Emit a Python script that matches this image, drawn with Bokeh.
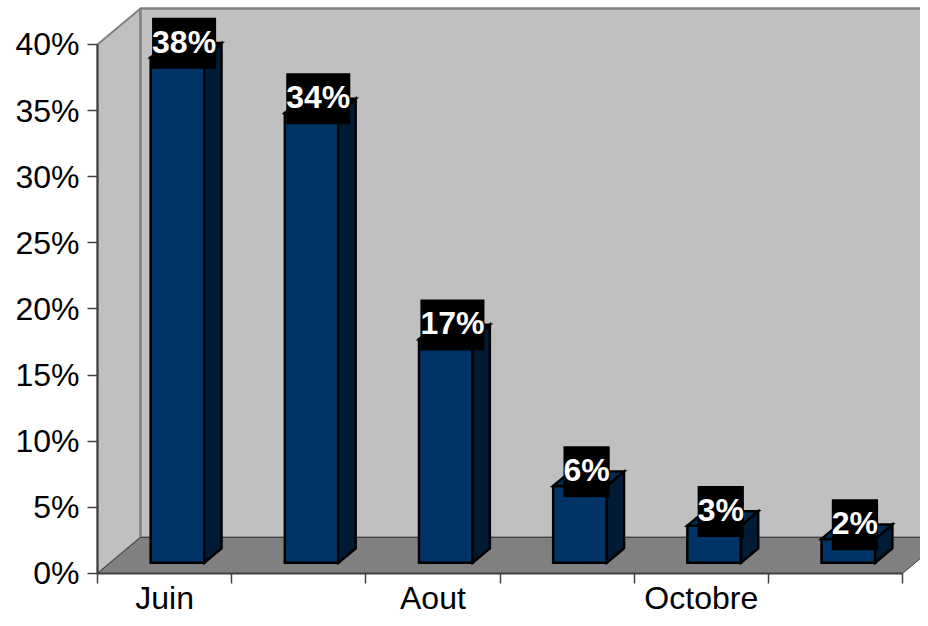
from bokeh.plotting import figure
from bokeh.models import (ColumnDataSource, Range1d, LinearAxis, FixedTicker,
                          PrintfTickFormatter)
from bokeh.core.properties import value
from bokeh.embed import file_html
from bokeh.resources import INLINE

# ---- data ----
months = ["Juin", "Juillet", "Aout", "Septembre", "Octobre", "Novembre"]
shares = [38.2, 34.0, 16.9, 5.8, 2.8, 1.8]          # percent
bar_labels = ["38%", "34%", "17%", "6%", "3%", "2%"]
shown_month_idx = [0, 2, 4]                         # labels Excel displayed
y_ticks = [0, 5, 10, 15, 20, 25, 30, 35, 40]

# ---- 3D look constants (data units) ----
Y_MAX = 40
DX, DY = 0.3205, 2.722        # full depth of the floor
F0, F1 = 0.30, 0.70           # bar depth span (fraction of floor depth)
BAR_W = 0.40
N = len(months)

FONT = "Liberation Sans"

p = figure(width=920, height=618, output_backend="svg", toolbar_location=None,
           x_range=Range1d(-0.723, 6.134), y_range=Range1d(-3.403, 43.327),
           min_border_left=0, min_border_right=0, min_border_top=0,
           min_border_bottom=0, x_axis_type=None, y_axis_type=None)
p.outline_line_color = None
p.xgrid.visible = False
p.ygrid.visible = False
p.background_fill_color = "white"
p.border_fill_color = "white"

# walls and floor
wall_top = Y_MAX + DY
p.patch([0, DX, DX, 0], [0, DY, wall_top, Y_MAX], fill_color="#C0C0C0",
        line_color="#808080", line_width=2)
p.patch([DX, N + DX + 0.5, N + DX + 0.5, DX], [DY, DY, wall_top, wall_top],
        fill_color="#C0C0C0", line_color="#808080", line_width=2.5)
p.patch([0, N, N + DX, DX], [0, 0, DY, DY], fill_color="#808080",
        line_color="#404040", line_width=1)

# bars
fx, fy, sx, sy, tx, ty = [], [], [], [], [], []
lx, ly = [], []
for i, v in enumerate(shares):
    x0 = i + 0.5 - BAR_W / 2 + F0 * DX
    x1 = x0 + BAR_W
    b = F0 * DY
    t = v + F0 * DY
    ddx = (F1 - F0) * DX
    ddy = (F1 - F0) * DY
    fx.append([x0, x1, x1, x0]); fy.append([b, b, t, t])
    sx.append([x1, x1 + ddx, x1 + ddx, x1]); sy.append([b, b + ddy, t + ddy, t])
    tx.append([x0, x1, x1 + ddx, x0 + ddx]); ty.append([t, t, t + ddy, t + ddy])
    lx.append(i + 0.5 + 0.5 * DX)
    ly.append(v + 0.5 * DY)

p.patches(fx, fy, fill_color="#003366", line_color="black", line_width=2.5,
          line_join="miter")
p.patches(sx, sy, fill_color="#001B36", line_color="black", line_width=2.5,
          line_join="miter")
p.patches(tx, ty, fill_color="#002A55", line_color="black", line_width=2.5,
          line_join="miter")

src = ColumnDataSource(dict(x=lx, y=ly, t=bar_labels))
p.text(x="x", y="y", text="t", source=src, x_offset=-2, y_offset=-7,
       text_align="center", text_baseline="alphabetic",
       text_font=value(FONT), text_font_size="32px", text_font_style="bold",
       text_color="white", background_fill_color="black",
       padding=dict(left=0, right=0, top=6, bottom=9))

# y axis, drawn on the front plane at x = 0
yax = LinearAxis(ticker=FixedTicker(ticks=y_ticks), bounds=(0, Y_MAX),
                 formatter=PrintfTickFormatter(format="%d%%"),
                 fixed_location=0)
yax.axis_line_color = "#404040"
yax.axis_line_width = 2
yax.major_tick_line_color = "#404040"
yax.major_tick_line_width = 1.5
yax.major_tick_out = 10
yax.major_tick_in = 0
yax.minor_tick_line_color = None
yax.major_label_standoff = 8
yax.major_label_text_font = FONT
yax.major_label_text_font_size = "32px"
yax.major_label_text_color = "black"
p.add_layout(yax, "left")

# x axis at y = 0: category boundaries as minor ticks, month names at centres
xax = LinearAxis(ticker=FixedTicker(ticks=[i + 0.5 for i in shown_month_idx],
                                    minor_ticks=list(range(N + 1))),
                 bounds=(0, N), fixed_location=0)
xax.major_label_overrides = {i + 0.5: months[i] for i in shown_month_idx}
xax.axis_line_color = "#404040"
xax.axis_line_width = 2
xax.major_tick_line_color = None
xax.major_tick_out = 0
xax.major_tick_in = 0
xax.minor_tick_line_color = "#404040"
xax.minor_tick_line_width = 1.5
xax.minor_tick_out = 10
xax.minor_tick_in = 0
xax.major_label_standoff = -3
xax.major_label_text_font = FONT
xax.major_label_text_font_size = "32px"
xax.major_label_text_color = "black"
p.add_layout(xax, "below")

open("out.html", "w").write(file_html(p, INLINE))
